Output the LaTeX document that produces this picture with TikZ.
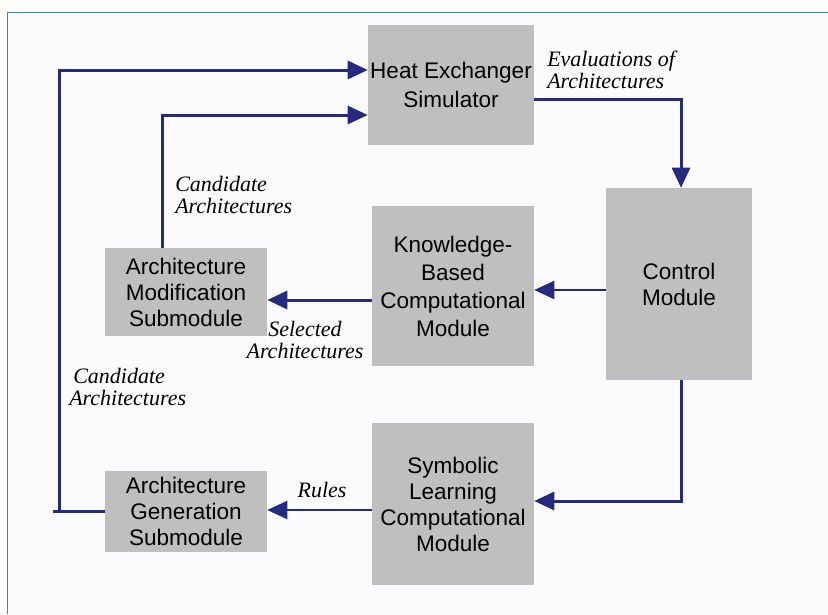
\documentclass[tikz,border=0pt]{standalone}
\usepackage{fontspec}
\setmainfont{Liberation Serif}
\setsansfont{Liberation Sans}
\usetikzlibrary{arrows.meta}
\definecolor{mblue}{RGB}{36, 42, 128}
\definecolor{mgrey}{RGB}{192, 191, 191}
\definecolor{mframe}{RGB}{66, 125, 205}
\definecolor{mpaper}{RGB}{251, 251, 253}
\tikzset{box/.style = {fill = mgrey, inner sep = 0, align = center, font = \sffamily\fontsize{16.9}{19.5}\selectfont}}
\tikzset{lbl/.style = {inner sep = 0, align = left, font = \itshape\fontsize{16.5}{16}\selectfont}}
\tikzset{wire/.style = {mblue, line width = 2.25pt}}
\tikzset{thinwire/.style = {mblue, line width = 1.5pt}}
\tikzset{arr/.style = {-{Triangle[length = 15pt, width = 13.5pt]}}}

\begin{document}
\begin{tikzpicture}[x = 0.75pt, y = -0.75pt]
    \useasboundingbox (0, 0) rectangle (828, 614);
    \fill [mpaper] (7, 12) rectangle (828, 614);
    \draw [mframe, line width = 0.75pt] (828, 12) -- (7, 12) -- (7, 614);

    \node [box, minimum width = 124.5pt, minimum height = 90pt, font = \sffamily\fontsize{16.9}{22}\selectfont] (hx) at (451, 85) {Heat Exchanger\\Simulator};
    \node [box, minimum width = 109.5pt, minimum height = 144pt] (ctrl) at (679, 284) {Control\\Module};
    \node [box, minimum width = 121.5pt, minimum height = 120pt, font = \sffamily\fontsize{16.9}{21}\selectfont] (kb) at (453, 286) {Knowledge-\\Based\\Computational\\Module};
    \node [box, minimum width = 121.5pt, minimum height = 66pt] (mod) at (186, 292) {Architecture\\Modification\\Submodule};
    \node [box, minimum width = 121.5pt, minimum height = 60.75pt] (gen) at (186, 511.5) {Architecture\\Generation\\Submodule};
    \node [box, minimum width = 121.5pt, minimum height = 121.5pt] (sym) at (453, 504) {Symbolic\\Learning\\Computational\\Module};

    \node [lbl, anchor = west] (eval) at (547, 70) {Evaluations of\\Architectures};
    \node [lbl, anchor = west] (cand1) at (175, 195) {Candidate\\Architectures};
    \node [lbl, align = center] (sel) at (305, 340) {Selected\\Architectures};
    \node [lbl, anchor = west] (cand2) at (69, 387) {\hspace{3pt}Candidate\\Architectures};
    \node [lbl] (rules) at (322, 490) {Rules};

    \coordinate (stub) at (53, 511.5);
    \coordinate (lc) at (59, 511.5);
    \draw [wire] (gen.west) -- (stub);
    \draw [wire, arr] (lc) |- ([yshift = 11.25pt] hx.west);
    \draw [wire, arr] ([xshift = -18pt] mod.north) |- ([yshift = -22.5pt] hx.west);
    \draw [wire, arr] ([yshift = -10.5pt] hx.east) -| ([xshift = 1.5pt] ctrl.north);
    \draw [thinwire, arr] ([yshift = -4.5pt] ctrl.west) coordinate (c1) -- (c1 -| kb.east);
    \draw [wire, arr] ([yshift = -10.5pt] kb.west) coordinate (k1) -- (k1 -| mod.east);
    \draw [wire, arr] ([xshift = 1.5pt] ctrl.south) |- ([yshift = 2.25pt] sym.east);
    \draw [thinwire, arr] ([yshift = -4.5pt] sym.west) coordinate (s1) -- (s1 -| gen.east);
  \end{tikzpicture}
\end{document}
